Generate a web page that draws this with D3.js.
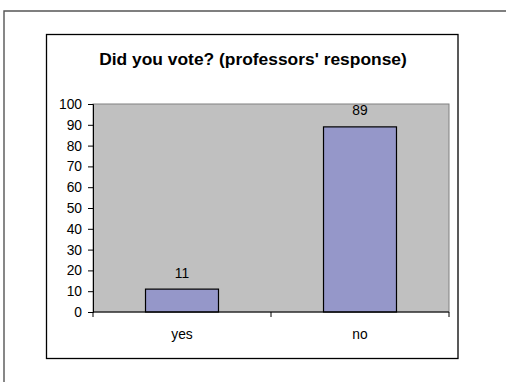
<!DOCTYPE html>
<html>
<head>
<meta charset="utf-8">
<script src="https://cdn.jsdelivr.net/npm/d3@7"></script>
<style>
  html, body { margin: 0; padding: 0; background: #fff; }
  svg { display: block; font-family: "Liberation Sans", Arial, sans-serif; }
</style>
</head>
<body>
<svg id="chart" width="506" height="382"></svg>
<script>
// Survey answers and their percentages
const categories = ["yes", "no"];
const values = [11, 89];
const yTicks = [0, 10, 20, 30, 40, 50, 60, 70, 80, 90, 100];
const titleText = "Did you vote? (professors' response)";

const svg = d3.select("#chart");

// Outer page frame: only its top and left edges fall inside the window
svg.append("path")
  .attr("d", "M4,382V11H506")
  .attr("fill", "none")
  .attr("stroke", "#555").attr("stroke-width", 1.4);

// Chart box
svg.append("rect")
  .attr("x", 46.5).attr("y", 34.5)
  .attr("width", 411.5).attr("height", 324)
  .attr("fill", "#fff")
  .attr("stroke", "#000").attr("stroke-width", 1.3);

// Title
svg.append("text")
  .attr("x", 253).attr("y", 65)
  .attr("text-anchor", "middle")
  .attr("font-size", 17.4).attr("font-weight", "bold")
  .attr("fill", "#000")
  .text(titleText);

const plot = { left: 93, right: 449, top: 104, bottom: 312 };
const fontSize = 13.8;

const x = d3.scaleBand()
  .domain(categories)
  .range([plot.left, plot.right])
  .paddingInner(0.59)
  .paddingOuter(0.295);

const xOuter = d3.scaleBand()
  .domain(categories)
  .range([plot.left, plot.right]);

const y = d3.scaleLinear()
  .domain([0, 100])
  .range([plot.bottom, plot.top]);

// Plot area background with gray border
svg.append("rect")
  .attr("x", plot.left).attr("y", plot.top)
  .attr("width", plot.right - plot.left)
  .attr("height", plot.bottom - plot.top)
  .attr("fill", "#c0c0c0")
  .attr("stroke", "#808080").attr("stroke-width", 1);

// Bars
svg.append("g").selectAll("rect")
  .data(values)
  .join("rect")
  .attr("x", (d, i) => x(categories[i]))
  .attr("y", d => y(d))
  .attr("width", x.bandwidth())
  .attr("height", d => y(0) - y(d))
  .attr("fill", "#9597c9")
  .attr("stroke", "#000").attr("stroke-width", 1.2);

// Value labels
svg.append("g").selectAll("text")
  .data(values)
  .join("text")
  .attr("x", (d, i) => x(categories[i]) + x.bandwidth() / 2)
  .attr("y", d => y(d) - 11.5)
  .attr("text-anchor", "middle")
  .attr("font-size", fontSize)
  .attr("fill", "#000")
  .text(d => d);

// Y axis
const yAxis = svg.append("g")
  .attr("transform", `translate(${plot.left},0)`)
  .call(d3.axisLeft(y).tickValues(yTicks).tickSize(5).tickPadding(6));
yAxis.select(".domain").attr("stroke", "#000");
yAxis.selectAll("line").attr("stroke", "#000");
yAxis.selectAll("text")
  .attr("font-size", fontSize)
  .attr("font-family", "Liberation Sans, Arial, sans-serif")
  .attr("fill", "#000");

// X axis: ticks at category boundaries, labels at category centres
const xAxis = svg.append("g")
  .attr("transform", `translate(0,${plot.bottom})`);
xAxis.append("line")
  .attr("x1", plot.left).attr("x2", plot.right)
  .attr("stroke", "#000");
const boundaries = categories.map(c => xOuter(c)).concat([plot.right]);
xAxis.selectAll("line.tick")
  .data(boundaries)
  .join("line")
  .attr("class", "tick")
  .attr("x1", d => d).attr("x2", d => d)
  .attr("y1", 0).attr("y2", 5)
  .attr("stroke", "#000");
xAxis.selectAll("text")
  .data(categories)
  .join("text")
  .attr("x", d => xOuter(d) + xOuter.bandwidth() / 2)
  .attr("y", 27)
  .attr("text-anchor", "middle")
  .attr("font-size", fontSize)
  .attr("fill", "#000")
  .text(d => d);
</script>
</body>
</html>
